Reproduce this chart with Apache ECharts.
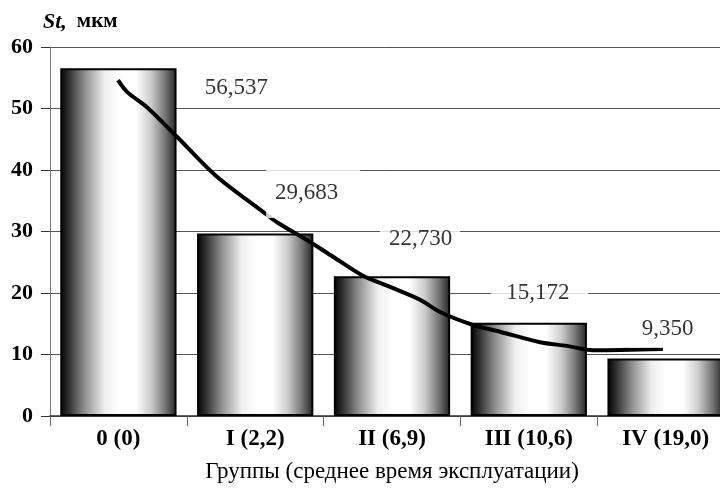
<!DOCTYPE html>
<html>
<head>
<meta charset="utf-8">
<script src="https://cdn.jsdelivr.net/npm/echarts@6/dist/echarts.min.js"></script>
<style>
  html, body { margin: 0; padding: 0; background: #fff; }
  #chart { width: 720px; height: 502px; }
</style>
</head>
<body>
<div id="chart"></div>
<script>
// data
var categories = ['0 (0)', 'I (2,2)', 'II (6,9)', 'III (10,6)', 'IV (19,0)']
var barValues = [56.537, 29.683, 22.730, 15.172, 9.350]
// trend line, x in category units (0..5), y in мкм
var trendX = [0.497, 0.563, 0.709, 0.928, 1.221, 1.557, 1.659, 1.901, 2.069, 2.288, 2.485, 2.705, 2.851, 3.092, 3.289, 3.582, 3.779, 3.969, 4.481]
var trendY = [54.6, 52.7, 50.2, 45.4, 38.9, 33.2, 31.5, 28.3, 25.9, 22.8, 21.0, 18.9, 16.9, 14.8, 13.7, 12.0, 11.4, 10.7, 10.9]
var yMin = 0, yMax = 60, yStep = 10

// label placement (manually moved in the original), and the white box around each
var labelOffsets = [[118, 20], [58, -40], [28, -37], [11, -30], [2, -30]]
var labelPads = [[8, 13], [13, 22, 13, 9], [8, 8, 8, 9], [8, 19, 8, 15], [8, 13]]

var chart = echarts.init(document.getElementById('chart'))

var barGradient = new echarts.graphic.LinearGradient(0, 0, 1, 0, [
  { offset: 0, color: '#000' },
  { offset: 0.08, color: '#333' },
  { offset: 0.2, color: '#888' },
  { offset: 0.38, color: '#eee' },
  { offset: 0.5, color: '#fff' },
  { offset: 0.65, color: '#fff' },
  { offset: 0.78, color: '#ccc' },
  { offset: 0.9, color: '#777' },
  { offset: 1, color: '#222' }
])

var serif = '"Liberation Serif", "DejaVu Serif", serif'

var option = {
  animation: false,
  title: {
    left: 38,
    top: 6,
    text: '{st|St,}  {u|мкм}',
    textStyle: {
      rich: {
        st: { fontFamily: serif, fontSize: 22, fontWeight: 'bold', fontStyle: 'italic', color: '#000' },
        u: { fontFamily: serif, fontSize: 21, fontWeight: 'bold', color: '#000' }
      }
    }
  },
  grid: {
    left: 50,
    width: 684,
    top: 47,
    bottom: 86,
    containLabel: false,
    outerBoundsMode: 'none'
  },
  xAxis: [
    {
      type: 'category',
      data: categories,
      name: 'Группы (среднее время эксплуатации)',
      nameLocation: 'middle',
      nameGap: 44,
      nameTextStyle: { fontFamily: serif, fontSize: 23, color: '#000' },
      axisLine: { lineStyle: { color: '#333', width: 1.5 } },
      axisTick: { show: true, length: 10, lineStyle: { color: '#666' } },
      axisLabel: {
        margin: 12,
        fontFamily: serif,
        fontSize: 23,
        fontWeight: 'bold',
        color: '#000'
      }
    },
    {
      type: 'value',
      min: 0,
      max: 5,
      show: false
    }
  ],
  yAxis: {
    type: 'value',
    min: yMin,
    max: yMax,
    interval: yStep,
    axisLine: { show: true, lineStyle: { color: '#777', width: 1 } },
    axisTick: { show: true, length: 9, lineStyle: { color: '#333' } },
    axisLabel: {
      margin: 17,
      fontFamily: serif,
      fontSize: 22,
      fontWeight: 'bold',
      color: '#000'
    },
    splitLine: { lineStyle: { color: '#555', width: 1 } }
  },
  series: [
    {
      name: 'St',
      type: 'bar',
      z: 2,
      barCategoryGap: '15%',
      data: barValues,
      itemStyle: {
        color: barGradient,
        borderColor: '#000',
        borderWidth: 2
      }
    },
    {
      name: 'trend',
      type: 'line',
      xAxisIndex: 1,
      z: 5,
      symbol: 'none',
      smooth: 0.3,
      lineStyle: { color: '#000', width: 4 },
      data: trendX.map(function (x, i) { return [x, trendY[i]] })
    },
    {
      name: 'labels',
      type: 'scatter',
      z: 10,
      symbolSize: 1,
      itemStyle: { color: 'rgba(0,0,0,0)' },
      data: barValues.map(function (v, i) {
        return {
          value: v,
          label: { offset: labelOffsets[i], padding: labelPads[i] }
        }
      }),
      label: {
        show: true,
        position: 'inside',
        fontFamily: serif,
        fontSize: 23,
        color: '#000',
        backgroundColor: '#fff',
        formatter: function (p) {
          return p.value.toFixed(3).replace('.', ',')
        }
      }
    }
  ]
}

chart.setOption(option)
</script>
</body>
</html>
